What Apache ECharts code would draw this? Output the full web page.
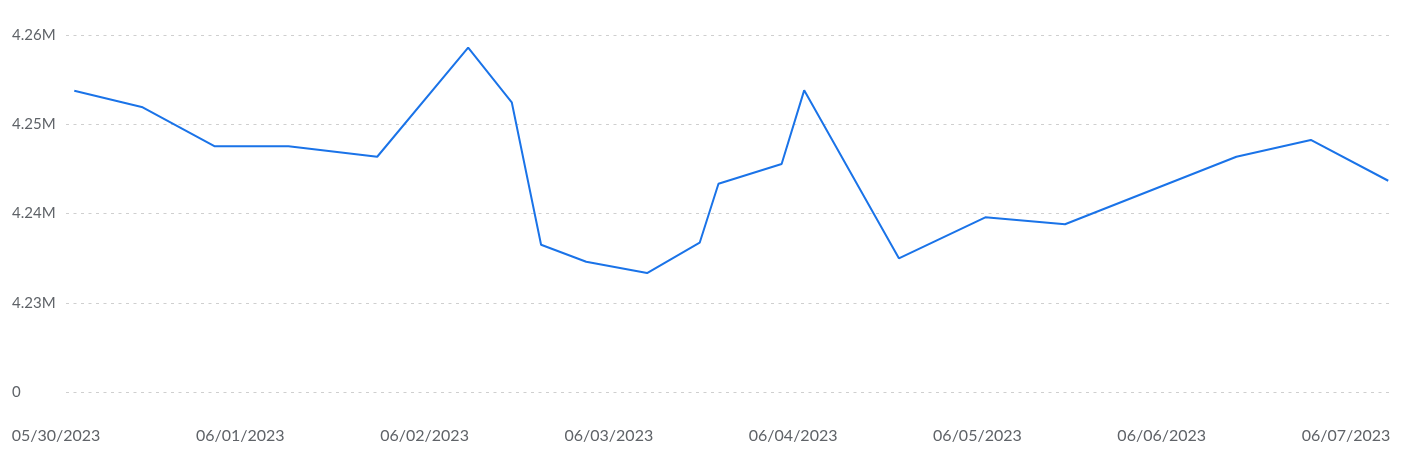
<!DOCTYPE html>
<html>
<head>
<meta charset="utf-8">
<script src="https://cdn.jsdelivr.net/npm/echarts@6/dist/echarts.min.js"></script>
<style>
html,body{margin:0;padding:0;background:#fff;}
#chart{width:1401px;height:462px;}
</style>
</head>
<body>
<div id="chart"></div>
<script>
// hours since start of the x range
const sampleHours = [1.1, 10.2, 19.8, 29.6, 41.4, 53.5, 59.3, 63.2, 69.2, 77.3, 84.3, 86.8, 95.2, 98.2, 110.8, 122.3, 132.9, 155.7, 165.6, 175.9];
const sampleValues = [4253760, 4251900, 4247530, 4247530, 4246360, 4258580, 4252460, 4236500, 4234600, 4233330, 4236730, 4243340, 4245550, 4253800, 4234980, 4239570, 4238790, 4246360, 4248240, 4243670];
const xTickLabels = ['05/30/2023', '06/01/2023', '06/02/2023', '06/03/2023', '06/04/2023', '06/05/2023', '06/06/2023', '06/07/2023'];
const yTickLabels = ['0', '4.23M', '4.24M', '4.25M', '4.26M'];
const yMin = 4220000, yMax = 4260000, yStep = 10000;
const xSpanHours = 176;

const chart = echarts.init(document.getElementById('chart'));
const textColor = '#5f6368';
const font = 'Lato, "Noto Sans", sans-serif';
chart.setOption({
  animation: false,
  grid: [
    {left: 66, right: 12, top: 35, bottom: 70},
    {left: 56, right: 55, top: 391, height: 1}
  ],
  xAxis: [
    {type: 'value', gridIndex: 0, min: 0, max: xSpanHours, show: false, splitLine: {show: false}},
    {type: 'value', gridIndex: 1, min: 0, max: xTickLabels.length - 1, interval: 1,
     axisLine: {show: false}, axisTick: {show: false}, splitLine: {show: false},
     axisLabel: {margin: 36, color: textColor, fontSize: 16, fontFamily: font,
       formatter: v => xTickLabels[Math.round(v)] || ''}}
  ],
  yAxis: [
    {type: 'value', gridIndex: 0, min: yMin, max: yMax, interval: yStep,
     axisLine: {show: false}, axisTick: {show: false},
     splitLine: {show: true, lineStyle: {color: '#cfcfcf', width: 1, type: [3, 4.5]}},
     axisLabel: {align: 'left', margin: 54, color: textColor, fontSize: 15, fontFamily: font,
       padding: [0, 0, 6, 0],
       formatter: v => yTickLabels[Math.round((v - yMin) / yStep)] || ''}},
    {type: 'value', gridIndex: 1, show: false}
  ],
  series: [{
    type: 'line',
    xAxisIndex: 0, yAxisIndex: 0,
    data: sampleHours.map((h, i) => [h, sampleValues[i]]),
    showSymbol: false,
    symbol: 'none',
    lineStyle: {color: '#1a73e8', width: 2},
    itemStyle: {color: '#1a73e8'}
  }]
});
</script>
</body>
</html>
